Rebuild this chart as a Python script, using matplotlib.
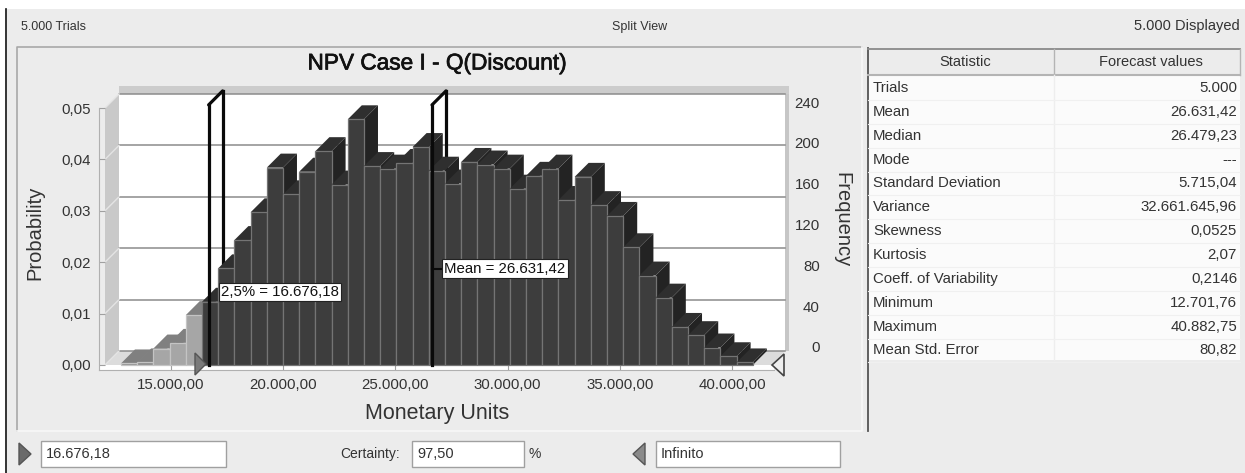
import matplotlib
matplotlib.use("Agg")
import matplotlib.pyplot as plt
import matplotlib.patheffects as pe
from matplotlib.patches import Rectangle, Polygon

W, H = 1245, 473

# histogram
bin_left = [12770, 13492, 14214, 14936, 15658, 16380, 17102, 17824, 18546, 19268,
            19990, 20712, 21434, 22156, 22878, 23600, 24322, 25044, 25766, 26488,
            27210, 27932, 28654, 29376, 30098, 30820, 31542, 32264, 32986, 33708,
            34430, 35152, 35874, 36596, 37318, 38040, 38762, 39484, 40206]
bin_width = 722
prob = [0.0003, 0.0005, 0.0032, 0.0043, 0.0097, 0.0123, 0.0188, 0.0243, 0.0297, 0.0384,
        0.0332, 0.0376, 0.0416, 0.0351, 0.0478, 0.0387, 0.0382, 0.0393, 0.0424, 0.0378,
        0.0353, 0.0395, 0.0390, 0.0382, 0.0343, 0.0368, 0.0382, 0.0321, 0.0366, 0.0311,
        0.0290, 0.0229, 0.0174, 0.0131, 0.0074, 0.0058, 0.0034, 0.0017, 0.0005]
n_grey = 5

x_ticks = [15000, 20000, 25000, 30000, 35000, 40000]
x_labels = ["15.000,00", "20.000,00", "25.000,00", "30.000,00", "35.000,00", "40.000,00"]
y_ticks = [0.0, 0.01, 0.02, 0.03, 0.04, 0.05]
y_labels = ["0,00", "0,01", "0,02", "0,03", "0,04", "0,05"]
freq_ticks = [0, 40, 80, 120, 160, 200, 240]

low_value = 16676.18
mean_value = 26631.42

stat_names = ["Trials", "Mean", "Median", "Mode", "Standard Deviation", "Variance", "Skewness",
              "Kurtosis", "Coeff. of Variability", "Minimum", "Maximum", "Mean Std. Error"]
stat_values = ["5.000", "26.631,42", "26.479,23", "---", "5.715,04", "32.661.645,96", "0,0525",
               "2,07", "0,2146", "12.701,76", "40.882,75", "80,82"]

plt.rcParams['font.family'] = ['Liberation Sans', 'DejaVu Sans']
TXT = '#333333'
BG = '#ececec'


def axes_px(fig, left, top, right, bottom, **kw):
    # axes placed by picture pixels
    return fig.add_axes([left / W, 1 - bottom / H, (right - left) / W, (bottom - top) / H], **kw)


fig = plt.figure(figsize=(W / 100, H / 100), dpi=100, facecolor='white')

# pixel layer under the chart: window, panels, table
bg = axes_px(fig, 0, 0, W, H, zorder=0)
bg.set_xlim(0, W)
bg.set_ylim(H, 0)
bg.axis('off')
bg.add_patch(Rectangle((7, 9), W - 7, H - 9, fc=BG, ec='none'))
bg.plot([6, 6], [9, H], color='#111111', lw=1.2)
bg.plot([17, 17, 862], [431, 47, 47], color='#a8a8a8', lw=1.2)
bg.plot([17, 862, 862], [431, 431, 47], color='#f8f8f8', lw=1.2)

bg.text(21, 27, "5.000 Trials", fontsize=9, color=TXT, va='center')
bg.text(640, 27, "Split View", fontsize=9, color=TXT, va='center', ha='center')
bg.text(1240, 26, "5.000 Displayed", fontsize=10.5, color=TXT, va='center', ha='right')
title = bg.text(437, 63, "NPV Case I - Q(Discount)", fontsize=16.3, color='#111111', va='center', ha='center')
title.set_path_effects([pe.withStroke(linewidth=0.5, foreground='#111111')])
bg.text(437, 413, "Monetary Units", fontsize=15.5, color=TXT, va='center', ha='center')
bg.text(35, 233, "Probability", fontsize=14.5, color=TXT, va='center', ha='center', rotation=90)
bg.text(842, 220, "Frequency", fontsize=14.5, color=TXT, va='center', ha='center', rotation=270)

# table
bg.add_patch(Rectangle((868, 76), 372, 284, fc='#fbfbfb', ec='none'))
bg.plot([868, 868], [48, 431], color='#555555', lw=1.3)
bg.plot([868, 1240], [49, 49], color='#8a8a8a', lw=1.3)
bg.plot([868, 1240], [75, 75], color='#b4b4b4', lw=1.5)
bg.plot([1240, 1240], [49, 75], color='#b4b4b4', lw=1)
bg.plot([1054, 1054], [49, 75], color='#b4b4b4', lw=1)
bg.plot([1054, 1054], [75, 360], color='#eeeeee', lw=1)
bg.text(965, 62, "Statistic", fontsize=10.5, color=TXT, va='center', ha='center')
bg.text(1151, 62, "Forecast values", fontsize=10.5, color=TXT, va='center', ha='center')
for i, (name, val) in enumerate(zip(stat_names, stat_values)):
    yy = 88 + i * 23.85
    bg.text(873, yy, name, fontsize=10.8, color=TXT, va='center')
    bg.text(1237, yy, val, fontsize=10.8, color=TXT, va='center', ha='right')
    bg.plot([868, 1240], [yy + 12, yy + 12], color='#f0f0f0', lw=0.8)

# bottom controls
for x0, x1, lab in [(41, 226, "16.676,18"), (412, 524, "97,50"), (656, 840, "Infinito")]:
    bg.add_patch(Rectangle((x0, 441), x1 - x0, 26, fc='white', ec='#a0a0a0', lw=1))
    bg.text(x0 + 5, 454, lab, fontsize=10.5, color=TXT, va='center')
bg.text(400, 454, "Certainty:", fontsize=10, color=TXT, va='center', ha='right')
bg.text(535, 454, "%", fontsize=10, color=TXT, va='center', ha='center')
bg.add_patch(Polygon([(19, 443), (31, 454), (19, 465)], fc='#6a6a6a', ec='#555555'))
bg.add_patch(Polygon([(645, 443), (633, 454), (645, 465)], fc='#8a8a8a', ec='#555555'))

# chart, front plane: 0 -> 0.05 is y 365 -> 108, 15000 -> 40000 is x 171 -> 732
px_per_val = (732 - 171) / 25000
px_per_prob = (365 - 108) / 0.05


def val_at(px):
    return 15000 + (px - 171) / px_per_val


def prob_at(py):
    return (365 - py) / px_per_prob


ax = axes_px(fig, 99, 108, 774, 370, zorder=1)
ax.patch.set_alpha(0)
ax.set_xlim(val_at(99), val_at(774))
ax.set_ylim(prob_at(370), 0.05)
for s in ['top', 'right']:
    ax.spines[s].set_visible(False)
for s in ['left', 'bottom']:
    ax.spines[s].set_color('#b0b0b0')
ax.set_xticks(x_ticks, x_labels)
ax.set_yticks(y_ticks, y_labels)
ax.tick_params(axis='x', direction='in', length=4, pad=6, labelsize=10.8, colors='#a0a0a0', labelcolor=TXT)
ax.tick_params(axis='y', direction='in', length=4, pad=6, labelsize=10.8, colors='#a0a0a0', labelcolor=TXT)

dx = 14 / px_per_val
dy = 14 / px_per_prob
xl, xr = val_at(105), val_at(771)
ytop = 0.05


def face(pts, fc, ec='none', z=1, lw=0.8):
    ax.add_patch(Polygon(pts, closed=True, fc=fc, ec=ec, lw=lw, zorder=z, clip_on=False))


# walls and floor
ax.add_patch(Rectangle((val_at(99), prob_at(370)), val_at(774) - val_at(99), prob_at(365) - prob_at(370),
                       fc='white', ec='none', zorder=0.5))
face([(xl + dx, dy), (xr + dx, dy), (xr + dx, ytop + dy), (xl + dx, ytop + dy)], 'white', z=0.6)
face([(xl, 0), (xl + dx, dy), (xl + dx, ytop + dy), (xl, ytop)], '#c9c9c9', z=0.7)
face([(xl, 0), (xr, 0), (xr + dx, dy), (xl + dx, dy)], '#dcdcdc', z=0.7)
face([(xl + dx, ytop + dy), (val_at(789), ytop + dy), (val_at(789), ytop + dy + 8 / px_per_prob),
      (xl + dx, ytop + dy + 8 / px_per_prob)], '#cccccc', z=0.7)
face([(xr + dx, dy), (val_at(789), dy), (val_at(789), ytop + dy), (xr + dx, ytop + dy)], '#c6c6c6', z=0.7)

for yt in y_ticks:
    ax.plot([xl + dx, xr + dx], [yt + dy, yt + dy], color='#8c8c8c', lw=1.1, zorder=0.8, clip_on=False)
    ax.plot([xl, xl + dx], [yt, yt + dy], color='#e4e4e4', lw=1, zorder=0.8, clip_on=False)

# back part of the certainty markers, behind the bars
line_top = 0.0506
for v in [low_value, mean_value]:
    ax.plot([v + dx, v + dx], [dy, line_top + dy], color='#0a0a0a', lw=2.3, zorder=2, clip_on=False)
    ax.plot([v, v + dx], [line_top, line_top + dy], color='#0a0a0a', lw=2.3, zorder=2, clip_on=False,
            solid_capstyle='round')

# bars, left to right so that each front covers the side of the one before
for i, (left, h) in enumerate(zip(bin_left, prob)):
    z = 10 + i * 0.1
    right = left + bin_width
    if i < n_grey:
        front, edge, top, side = '#a6a6a6', '#c4c4c4', '#808080', '#6c6c6c'
        if i < 2:
            front = '#8e8e8e'
    else:
        front, edge, top, side = '#3d3d3d', '#747474', '#2f2f2f', '#232323'
    face([(right, 0), (right + dx, dy), (right + dx, h + dy), (right, h)], side, z=z)
    face([(left, h), (right, h), (right + dx, h + dy), (left + dx, h + dy)], top, z=z)
    ax.bar(left, h, width=bin_width, align='edge', color=front, edgecolor=edge, linewidth=0.9,
           zorder=z + 0.05, clip_on=False)

# front part of the markers
for v in [low_value, mean_value]:
    ax.plot([v, v], [0, line_top], color='#0a0a0a', lw=2.3, zorder=40, clip_on=False)

# frequency scale, sits on the back wall
freq_px = (347 - 102) / 240
fq = axes_px(fig, 99, 95, 785, 370, zorder=1.5)
fq.patch.set_alpha(0)
fq.set_xticks([])
for s in fq.spines.values():
    s.set_visible(False)
fq.yaxis.tick_right()
fq.set_ylim((347 - 370) / freq_px, (347 - 95) / freq_px)
fq.set_yticks(freq_ticks)
fq.tick_params(axis='y', length=0, pad=25, labelsize=10.8, labelcolor=TXT)
for lab in fq.get_yticklabels():
    lab.set_ha('right')

# top pixel layer: labels on the bars and sliders
ov = axes_px(fig, 0, 0, W, H, zorder=5)
ov.patch.set_alpha(0)
ov.set_xlim(0, W)
ov.set_ylim(H, 0)
ov.axis('off')
ov.plot([432, 441], [268.5, 268.5], color='#0a0a0a', lw=1.5)
ov.text(280, 292, "2,5% = 16.676,18", fontsize=10.8, color='#111111', ha='center', va='center',
        bbox=dict(boxstyle='square,pad=0.14', fc='white', ec='#222222', lw=0.8))
ov.text(505, 268.5, "Mean = 26.631,42", fontsize=10.8, color='#111111', ha='center', va='center',
        bbox=dict(boxstyle='square,pad=0.14', fc='white', ec='#222222', lw=0.8))
ov.add_patch(Polygon([(195, 353), (206, 364), (195, 375)], fc='#7a7a7a', ec='#555555', lw=1))
ov.add_patch(Polygon([(784, 354), (772, 365), (784, 376)], fc='#eeeeee', ec='#444444', lw=1.2))

fig.savefig("out.png", dpi=100, facecolor=fig.get_facecolor())
